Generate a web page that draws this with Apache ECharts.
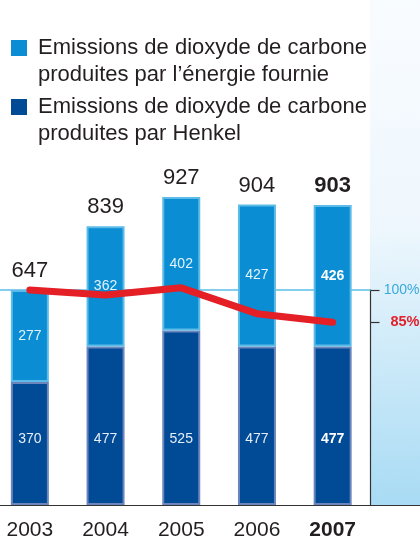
<!DOCTYPE html>
<html>
<head>
<meta charset="utf-8">
<script src="https://cdn.jsdelivr.net/npm/echarts@6/dist/echarts.min.js"></script>
<style>
  html, body { margin: 0; padding: 0; background: #fff; }
  #chart { width: 420px; height: 539px; }
</style>
</head>
<body>
<div id="chart"></div>
<script>
// data
const years = ["2003", "2004", "2005", "2006", "2007"];
const henkel = [370, 477, 525, 477, 477];
const energie = [277, 362, 402, 427, 426];
const trendPct = [100, 97.7, 101, 89, 85];
const pctTicks = [100, 85];
const seriesNames = [
  "Emissions de dioxyde de carbone\nproduites par l\u2019énergie fournie",
  "Emissions de dioxyde de carbone\nproduites par Henkel",
];

const totals = henkel.map((v, i) => v + energie[i]);
const lastIdx = years.length - 1;

const FONT = "Liberation Sans, Arial, sans-serif";
const LIGHT = "#0a8dd3";
const DARK = "#004a96";
const INK = "#231f20";

const pick = (p) => (p.dataIndex === lastIdx ? "{b|" + p.value + "}" : "{n|" + p.value + "}");

const chart = echarts.init(document.getElementById("chart"));

const option = {
  animation: false,
  textStyle: { fontFamily: FONT },
  graphic: [
    {
      type: "rect",
      z: -10,
      shape: { x: 370, y: 0, width: 50, height: 505 },
      style: {
        fill: new echarts.graphic.LinearGradient(0, 0, 0.35, 1, [
          { offset: 0, color: "#f9fcff" },
          { offset: 0.45, color: "#eef7fd" },
          { offset: 1, color: "#a8dbf4" },
        ]),
      },
    },
    {
      type: "line",
      shape: { x1: 370, y1: 505.5, x2: 420, y2: 505.5 },
      style: { stroke: "#333", lineWidth: 1.2 },
    },
    { type: "rect", shape: { x: 11, y: 40, width: 16, height: 16 }, style: { fill: LIGHT } },
    {
      type: "text",
      x: 38,
      y: 34.5,
      style: { text: seriesNames[0], font: "22px " + FONT, fill: INK, lineHeight: 27, verticalAlign: "top" },
    },
    { type: "rect", shape: { x: 11, y: 99, width: 16, height: 16 }, style: { fill: DARK } },
    {
      type: "text",
      x: 38,
      y: 93.5,
      style: { text: seriesNames[1], font: "22px " + FONT, fill: INK, lineHeight: 27, verticalAlign: "top" },
    },
  ],
  grid: [
    { left: -8, right: 49.5, top: 172.7, bottom: 34, outerBoundsMode: "none" },
    { left: -8, right: 49.5, top: 290, bottom: 34, outerBoundsMode: "none" },
  ],
  xAxis: [
    {
      type: "category",
      gridIndex: 0,
      data: years,
      axisLine: { onZero: false, lineStyle: { color: "#333", width: 1.2 } },
      axisTick: { show: false },
      axisLabel: {
        margin: 15,
        formatter: (v) => (v === years[lastIdx] ? "{b|" + v + "}" : "{n|" + v + "}"),
        rich: {
          n: { fontSize: 21, color: INK, fontFamily: FONT },
          b: { fontSize: 21, color: INK, fontWeight: "bold", fontFamily: FONT },
        },
      },
    },
    {
      type: "category",
      gridIndex: 1,
      data: years,
      position: "top",
      axisLine: { onZero: false, lineStyle: { color: "#5bbde8", width: 1.5 } },
      axisTick: { show: false },
      axisLabel: { show: false },
    },
  ],
  yAxis: [
    { type: "value", gridIndex: 0, min: 0, max: 1000, show: false },
    {
      type: "value",
      gridIndex: 1,
      min: 0,
      max: 100,
      position: "right",
      splitLine: { show: false },
      axisLine: { show: true, onZero: false, lineStyle: { color: "#333", width: 1.2 } },
      axisTick: { show: true, customValues: pctTicks, length: 9, lineStyle: { color: "#333", width: 1.2 } },
      axisLabel: {
        customValues: pctTicks,
        align: "right",
        margin: 49,
        formatter: (v) => (v === 100 ? "{a|100%}" : "{r|" + v + "%}"),
        rich: {
          a: { fontSize: 14, color: "#3aa9dd", fontFamily: FONT },
          r: { fontSize: 14.5, color: "#e3202a", fontWeight: "bold", fontFamily: FONT },
        },
      },
    },
  ],
  series: [
    {
      name: seriesNames[1],
      type: "bar",
      stack: "co2",
      data: henkel,
      barWidth: 38,
      z: 2,
      itemStyle: { color: DARK, borderColor: "#6c85bd", borderWidth: 2 },
      label: {
        show: true,
        position: "insideBottom",
        distance: 59,
        formatter: pick,
        rich: {
          n: { fontSize: 14, color: "#e6eef8", fontFamily: FONT },
          b: { fontSize: 14, color: "#fff", fontWeight: "bold", fontFamily: FONT },
        },
      },
    },
    {
      name: seriesNames[0],
      type: "bar",
      stack: "co2",
      data: energie,
      barWidth: 38,
      z: 2,
      itemStyle: { color: LIGHT, borderColor: "#5dbbe8", borderWidth: 2 },
      label: {
        show: true,
        position: "inside",
        formatter: pick,
        rich: {
          n: { fontSize: 14, color: "#e3f2fb", fontFamily: FONT },
          b: { fontSize: 14, color: "#fff", fontWeight: "bold", fontFamily: FONT },
        },
      },
    },
    {
      name: "total",
      type: "bar",
      data: totals,
      barWidth: 38,
      barGap: "-100%",
      z: 1,
      silent: true,
      itemStyle: { color: "rgba(0,0,0,0)" },
      label: {
        show: true,
        position: "top",
        distance: 8,
        formatter: pick,
        rich: {
          n: { fontSize: 22, color: INK, fontFamily: FONT },
          b: { fontSize: 22, color: INK, fontWeight: "bold", fontFamily: FONT },
        },
      },
    },
    {
      name: "tendance",
      type: "line",
      xAxisIndex: 1,
      yAxisIndex: 1,
      data: trendPct,
      clip: false,
      z: 10,
      symbol: "none",
      lineStyle: { color: "#e41f26", width: 7, cap: "round", join: "round" },
    },
  ],
};

chart.setOption(option);
</script>
</body>
</html>
